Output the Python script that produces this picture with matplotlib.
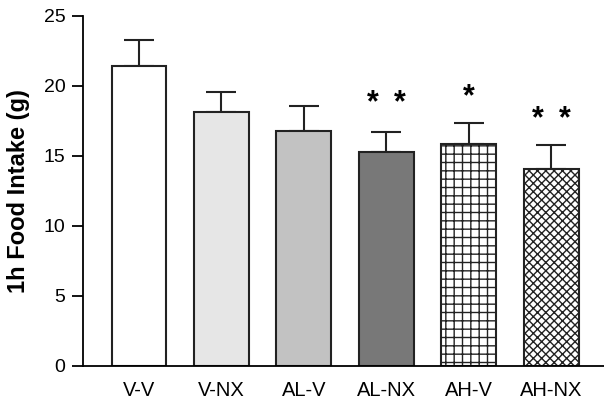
import matplotlib
matplotlib.use("Agg")
import matplotlib.pyplot as plt
import numpy as np

plt.rcParams['font.family'] = ['Liberation Sans', 'DejaVu Sans']
plt.rcParams['hatch.linewidth'] = 1.0

categories = ["V-V", "V-NX", "AL-V", "AL-NX", "AH-V", "AH-NX"]
means = [21.4, 18.15, 16.75, 15.25, 15.85, 14.1]
errors = [1.85, 1.4, 1.8, 1.45, 1.5, 1.7]
stars = ["", "", "", "* *", "*", "* *"]
star_y = [0, 0, 0, 18.8, 19.2, 17.6]
colors = ["#ffffff", "#e6e6e6", "#c2c2c2", "#787878", "#ffffff", "#ffffff"]
hatches = [None, None, None, None, "++", "xxxx"]

fig = plt.figure(figsize=(6.04, 4.05), dpi=100)
ax = fig.add_axes([0.138, 0.0963, 0.862, 0.8642])

x = np.arange(len(categories))
for i in range(len(categories)):
    ax.bar(x[i], means[i], width=0.667, color=colors[i], edgecolor="#222222",
           linewidth=1.5, hatch=hatches[i], zorder=2)
    ax.errorbar(x[i], means[i], yerr=[[0], [errors[i]]], fmt="none",
                ecolor="#222222", elinewidth=1.5, capsize=10.5, capthick=1.5, zorder=1)
    if stars[i]:
        parts = stars[i].split()
        if len(parts) == 2:
            for dx in (-0.16, 0.16):
                ax.text(x[i] + dx, star_y[i], "*", ha="center", va="center",
                        fontsize=22, fontweight="bold")
        else:
            ax.text(x[i], star_y[i], "*", ha="center", va="center",
                    fontsize=22, fontweight="bold")

ax.set_xlim(-0.675, 5.64)
ax.set_ylim(0, 25)
ax.set_yticks([0, 5, 10, 15, 20, 25])
ax.set_xticks(x)
ax.set_xticklabels(categories, fontsize=14.5)
ax.tick_params(axis='x', length=0, pad=11)
ax.tick_params(axis='y', length=8, width=1.3, direction='out', labelsize=14, pad=5)
ax.spines['top'].set_visible(False)
ax.spines['right'].set_visible(False)
ax.spines['left'].set_linewidth(1.3)
ax.spines['bottom'].set_linewidth(1.3)
ax.set_ylabel("1h Food Intake (g)", fontsize=17, fontweight="bold")
ax.yaxis.set_label_coords(-0.102, 0.5)

fig.savefig("out.png", dpi=100)
